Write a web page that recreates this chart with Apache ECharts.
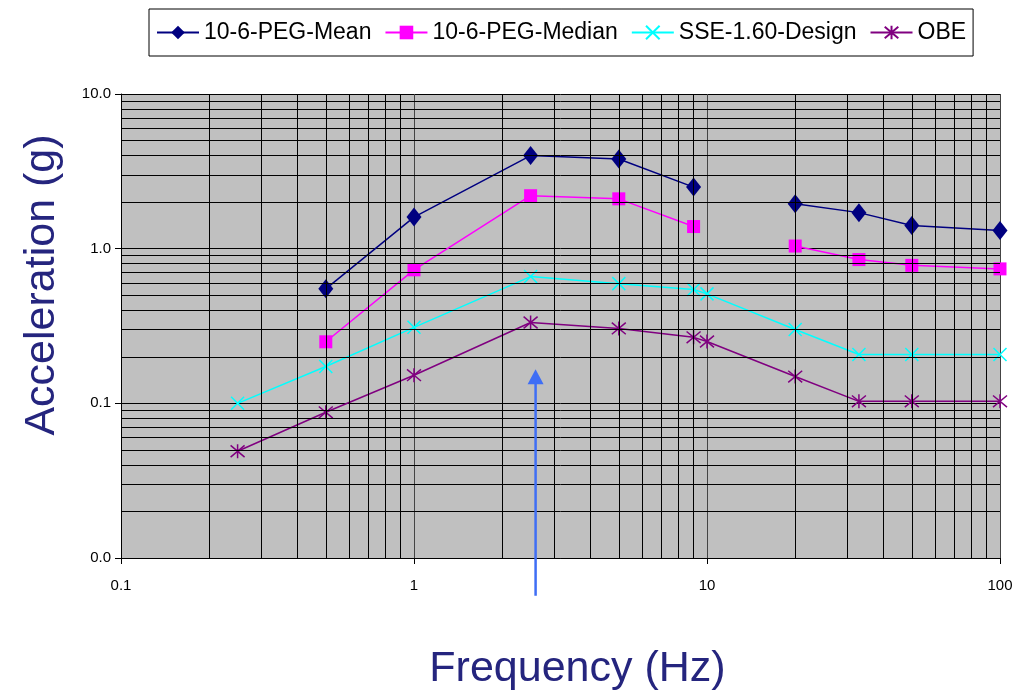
<!DOCTYPE html>
<html>
<head>
<meta charset="utf-8">
<script src="https://cdn.jsdelivr.net/npm/echarts@6/dist/echarts.min.js"></script>
<style>html,body{margin:0;padding:0;background:#fff;}#c{width:1024px;height:698px;}</style>
</head>
<body>
<div id="c"></div>
<script>
var seriesNames = ['10-6-PEG-Mean', '10-6-PEG-Median', 'SSE-1.60-Design', 'OBE'];
var meanFreq = [0.5, 1, 2.5, 5, 9, 10, 20, 33, 50, 100];
var meanVals = [0.55, 1.6, 4.0, 3.8, 2.5, '-', 1.95, 1.71, 1.41, 1.31];
var medianFreq = [0.5, 1, 2.5, 5, 9, 10, 20, 33, 50, 100];
var medianVals = [0.25, 0.73, 2.2, 2.1, 1.39, '-', 1.04, 0.85, 0.78, 0.74];
var sseFreq = [0.25, 0.5, 1, 2.5, 5, 9, 10, 20, 33, 50, 100];
var sseVals = [0.1, 0.173, 0.31, 0.66, 0.594, 0.544, 0.51, 0.30, 0.207, 0.207, 0.207];
var obeFreq = [0.25, 0.5, 1, 2.5, 5, 9, 10, 20, 33, 50, 100];
var obeVals = [0.049, 0.0875, 0.152, 0.333, 0.305, 0.267, 0.251, 0.149, 0.103, 0.103, 0.103];
var xMinorLines = [0.2, 0.3, 0.4, 0.5, 0.6, 0.7, 0.8, 0.9, 2, 3, 4, 5, 6, 7, 8, 9, 20, 30, 40, 50, 60, 70, 80, 90];
var yMinorLines = [0.02, 0.03, 0.04, 0.05, 0.06, 0.07, 0.08, 0.09, 0.2, 0.3, 0.4, 0.5, 0.6, 0.7, 0.8, 0.9, 2, 3, 4, 5, 6, 7, 8, 9];
var arrowX = 2.6, arrowFromY = 0.0057, arrowToY = 0.166;

function pairs(xs, ys) { return xs.map(function (x, i) { return [x, ys[i]]; }); }

var chart = echarts.init(document.getElementById('c'), null, {renderer: 'canvas'});
var font = 'Liberation Sans, Arial, sans-serif';
var xSym = 'path://M0,0L10,10M10,0L0,10';
var starSym = 'path://M0,0L10,10M10,0L0,10M5,-1L5,11';

var minorData = xMinorLines.map(function (v) { return {xAxis: v}; })
  .concat(yMinorLines.map(function (v) { return {yAxis: v}; }));

var option = {
  animation: false,
  backgroundColor: '#fff',
  textStyle: {fontFamily: font},
  legend: {
    left: 149, top: 9,
    padding: [12, 7, 12, 7],
    borderColor: '#000', borderWidth: 1,
    itemWidth: 42, itemHeight: 17, itemGap: 13,
    textStyle: {fontSize: 23, color: '#000', fontFamily: font},
    data: seriesNames
  },
  grid: {left: 121, right: 24, top: 94, bottom: 140, show: true, backgroundColor: '#C0C0C0', borderWidth: 0},
  xAxis: {
    type: 'log', logBase: 10, min: 0.1, max: 100,
    name: 'Frequency (Hz)', nameLocation: 'middle', nameGap: 90,
    nameTextStyle: {fontSize: 43, color: '#25257E', fontFamily: font, padding: [0, 0, 0, 34]},
    axisLine: {show: true, onZero: false, lineStyle: {color: '#000', width: 1}},
    axisTick: {show: true, length: 6, lineStyle: {color: '#000'}},
    axisLabel: {fontSize: 15, color: '#000', margin: 20, formatter: function (v) { return String(+v.toPrecision(3)); }},
    splitLine: {show: true, lineStyle: {color: '#444', width: 1}}
  },
  yAxis: {
    type: 'log', logBase: 10, min: 0.01, max: 10,
    name: 'Acceleration (g)', nameLocation: 'middle', nameGap: 57, nameRotate: 90,
    nameTextStyle: {fontSize: 43, color: '#25257E', fontFamily: font, padding: [0, 0, 0, 82]},
    axisLine: {show: true, onZero: false, lineStyle: {color: '#000', width: 1}},
    axisTick: {show: true, length: 6, lineStyle: {color: '#000'}},
    axisLabel: {fontSize: 15, color: '#000', margin: 10, formatter: function (v) { return (+v).toFixed(1); }},
    splitLine: {show: true, lineStyle: {color: '#000', width: 1}}
  },
  series: [
    {
      name: 'gridMinor', type: 'line', data: [], silent: true,
      markLine: {silent: true, symbol: 'none', label: {show: false}, animation: false,
        lineStyle: {color: '#000', width: 1, type: 'solid'}, emphasis: {disabled: true}, data: minorData}
    },
    {
      name: seriesNames[0], type: 'line', data: pairs(meanFreq, meanVals), connectNulls: false,
      symbol: 'diamond', symbolSize: [15, 19], color: '#000080',
      lineStyle: {color: '#000080', width: 1.5}, itemStyle: {color: '#000080'}
    },
    {
      name: seriesNames[1], type: 'line', data: pairs(medianFreq, medianVals), connectNulls: false,
      symbol: 'rect', symbolSize: 13, color: '#FF00FF',
      lineStyle: {color: '#FF00FF', width: 1.5}, itemStyle: {color: '#FF00FF'}
    },
    {
      name: seriesNames[2], type: 'line', data: pairs(sseFreq, sseVals),
      symbol: xSym, symbolSize: 13, color: '#00FFFF',
      lineStyle: {color: '#00FFFF', width: 1.5}, itemStyle: {color: 'rgba(0,0,0,0)', borderColor: '#00FFFF', borderWidth: 1.5}
    },
    {
      name: seriesNames[3], type: 'line', data: pairs(obeFreq, obeVals),
      symbol: starSym, symbolSize: 14, color: '#800080',
      lineStyle: {color: '#800080', width: 1.5}, itemStyle: {color: 'rgba(0,0,0,0)', borderColor: '#800080', borderWidth: 1.5}
    }
  ]
};
chart.setOption(option);

var pBottom = chart.convertToPixel({gridIndex: 0}, [arrowX, arrowFromY]);
var pTip = chart.convertToPixel({gridIndex: 0}, [arrowX, arrowToY]);
var headH = 15, headW = 8;
chart.setOption({
  graphic: [
    {type: 'line', z: 100, shape: {x1: pBottom[0], y1: pBottom[1], x2: pTip[0], y2: pTip[1] + headH - 1},
      style: {stroke: '#3F6EF5', lineWidth: 2.5}},
    {type: 'polygon', z: 100, shape: {points: [[pTip[0], pTip[1]], [pTip[0] - headW, pTip[1] + headH], [pTip[0] + headW, pTip[1] + headH]]},
      style: {fill: '#3F6EF5'}}
  ]
});
</script>
</body>
</html>
